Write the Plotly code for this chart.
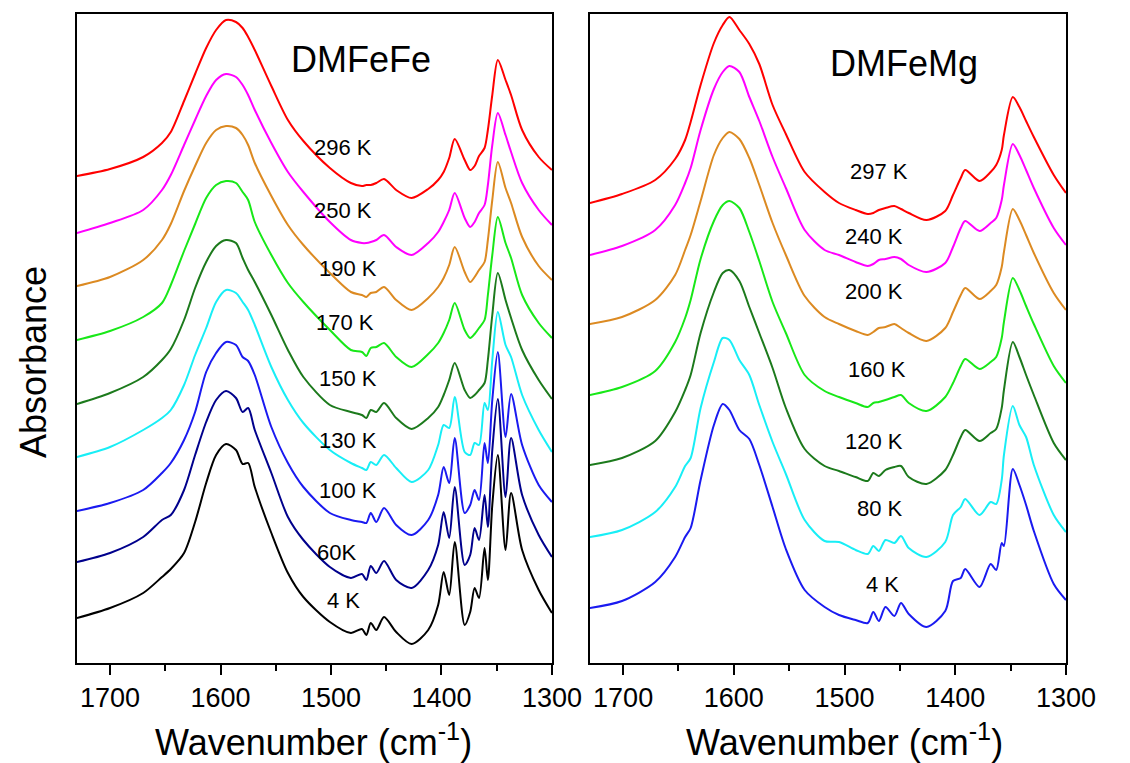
import plotly.graph_objects as go

# ---------------- DMFeFe panel (left) ----------------
wn_fefe = [1730, 1700, 1670, 1653, 1645, 1633, 1623, 1613, 1604, 1595, 1586, 1580, 1575, 1569,
           1554, 1539, 1525, 1501, 1482, 1472, 1468, 1464, 1459, 1452, 1441, 1427, 1412, 1403,
           1398, 1393, 1388, 1379, 1374, 1370, 1366, 1361, 1358, 1354, 1349, 1342, 1337, 1327,
           1312, 1300]

fefe_296K = [4.87, 4.94, 5.06, 5.20, 5.31, 5.62, 5.89, 6.15, 6.33, 6.43, 6.41, 6.35, 6.26, 6.13,
             5.77, 5.43, 5.22, 4.95, 4.80, 4.77, 4.78, 4.78, 4.80, 4.84, 4.73, 4.65, 4.74, 4.83,
             4.91, 5.05, 5.24, 5.03, 4.93, 4.97, 5.07, 5.15, 5.33, 5.68, 6.03, 5.83, 5.68, 5.33,
             5.06, 4.93]
fefe_250K = [4.30, 4.40, 4.53, 4.73, 4.88, 5.18, 5.43, 5.67, 5.83, 5.89, 5.86, 5.78, 5.68, 5.53,
             5.20, 4.91, 4.71, 4.41, 4.23, 4.20, 4.20, 4.21, 4.23, 4.28, 4.16, 4.08, 4.20, 4.31,
             4.41, 4.53, 4.70, 4.45, 4.36, 4.41, 4.50, 4.58, 4.78, 5.18, 5.50, 5.28, 5.11, 4.80,
             4.53, 4.38]
fefe_190K = [3.77, 3.86, 4.03, 4.23, 4.39, 4.72, 4.97, 5.20, 5.33, 5.37, 5.35, 5.28, 5.18, 5.00,
             4.67, 4.38, 4.18, 3.90, 3.71, 3.68, 3.66, 3.70, 3.71, 3.76, 3.63, 3.53, 3.65, 3.76,
             3.85, 3.98, 4.16, 3.91, 3.81, 3.86, 3.93, 4.01, 4.23, 4.63, 5.01, 4.75, 4.60, 4.26,
             3.97, 3.83]
fefe_170K = [3.23, 3.32, 3.46, 3.60, 3.78, 4.12, 4.39, 4.65, 4.78, 4.82, 4.80, 4.71, 4.63, 4.41,
             4.08, 3.80, 3.61, 3.33, 3.13, 3.11, 3.07, 3.15, 3.16, 3.20, 3.06, 2.96, 3.09, 3.20,
             3.30, 3.43, 3.60, 3.33, 3.25, 3.29, 3.35, 3.43, 3.68, 4.08, 4.46, 4.20, 4.05, 3.68,
             3.40, 3.25]
fefe_150K = [2.59, 2.70, 2.86, 3.03, 3.14, 3.43, 3.75, 4.01, 4.17, 4.23, 4.20, 4.05, 3.93, 3.81,
             3.48, 3.13, 2.86, 2.58, 2.51, 2.48, 2.45, 2.53, 2.51, 2.60, 2.45, 2.34, 2.45, 2.56,
             2.68, 2.83, 3.00, 2.73, 2.65, 2.68, 2.73, 2.80, 3.03, 3.48, 3.90, 3.63, 3.45, 3.13,
             2.83, 2.64]
fefe_130K = [2.06, 2.16, 2.33, 2.45, 2.53, 2.78, 3.08, 3.35, 3.61, 3.73, 3.70, 3.61, 3.53, 3.38,
             2.96, 2.63, 2.40, 2.13, 2.00, 1.95, 1.93, 2.01, 1.98, 2.08, 1.95, 1.81, 1.93, 2.18,
             2.38, 2.35, 2.66, 2.11, 2.08, 2.20, 2.18, 2.60, 2.53, 3.03, 3.51, 3.18, 3.06, 2.68,
             2.33, 2.11]
fefe_100K = [1.52, 1.60, 1.73, 1.90, 2.00, 2.23, 2.51, 2.91, 3.10, 3.21, 3.18, 3.06, 3.02, 2.88,
             2.36, 2.00, 1.76, 1.50, 1.43, 1.41, 1.40, 1.50, 1.41, 1.55, 1.38, 1.28, 1.43, 1.68,
             1.96, 1.80, 2.25, 1.50, 1.58, 1.73, 1.63, 2.20, 2.00, 2.63, 3.11, 2.26, 2.69, 2.18,
             1.78, 1.61]
fefe_60K = [1.01, 1.10, 1.26, 1.43, 1.48, 1.73, 2.08, 2.41, 2.63, 2.72, 2.65, 2.51, 2.55, 2.33,
            1.90, 1.46, 1.23, 0.96, 0.85, 0.89, 0.83, 0.97, 0.90, 1.02, 0.83, 0.75, 0.93, 1.18,
            1.51, 1.25, 1.76, 0.98, 1.08, 1.35, 1.23, 1.68, 1.36, 2.13, 2.64, 1.66, 2.25, 1.68,
            1.28, 1.06]
fefe_4K = [0.45, 0.55, 0.70, 0.86, 0.94, 1.10, 1.41, 1.80, 2.08, 2.19, 2.13, 1.99, 2.00, 1.76,
           1.30, 0.90, 0.66, 0.41, 0.30, 0.34, 0.28, 0.40, 0.33, 0.46, 0.31, 0.19, 0.33, 0.58,
           0.91, 0.68, 1.21, 0.38, 0.51, 0.75, 0.65, 1.15, 0.83, 1.58, 2.08, 1.13, 1.70, 1.13,
           0.73, 0.50]

fefe_labels = ["296 K", "250 K", "190 K", "170 K", "150 K", "130 K", "100 K", "60K", "4 K"]
fefe_series = [fefe_296K, fefe_250K, fefe_190K, fefe_170K, fefe_150K, fefe_130K, fefe_100K,
               fefe_60K, fefe_4K]

# ---------------- DMFeMg panel (right) ----------------
wn_femg = [1730, 1701, 1671, 1653, 1644, 1639, 1630, 1618, 1610, 1604, 1595, 1586, 1577, 1565,
           1553, 1536, 1518, 1505, 1490, 1479, 1474, 1469, 1463, 1455, 1449, 1442, 1426, 1409,
           1402, 1395, 1391, 1378, 1368, 1363, 1358, 1356, 1348, 1342, 1336, 1329, 1311, 1300]

femg_297K = [4.60, 4.69, 4.83, 5.04, 5.23, 5.41, 5.78, 6.20, 6.38, 6.46, 6.33, 6.19, 5.99, 5.58,
             5.29, 4.91, 4.71, 4.60, 4.53, 4.49, 4.50, 4.53, 4.55, 4.57, 4.54, 4.50, 4.43, 4.52,
             4.68, 4.85, 4.93, 4.82, 4.91, 4.98, 5.13, 5.28, 5.66, 5.56, 5.42, 5.26, 4.88, 4.70]
femg_240K = [4.08, 4.17, 4.33, 4.58, 4.80, 4.95, 5.33, 5.74, 5.91, 5.97, 5.91, 5.66, 5.42, 5.06,
             4.75, 4.33, 4.13, 4.08, 4.01, 3.97, 3.99, 4.03, 4.04, 4.06, 4.04, 3.98, 3.91, 4.00,
             4.16, 4.35, 4.42, 4.32, 4.40, 4.45, 4.63, 4.78, 5.19, 5.08, 4.93, 4.75, 4.35, 4.18]
femg_200K = [3.39, 3.46, 3.63, 3.88, 4.13, 4.28, 4.62, 5.08, 5.25, 5.31, 5.24, 5.05, 4.78, 4.40,
             4.08, 3.67, 3.46, 3.39, 3.32, 3.28, 3.31, 3.35, 3.36, 3.39, 3.35, 3.30, 3.22, 3.35,
             3.51, 3.68, 3.75, 3.64, 3.72, 3.78, 3.96, 4.11, 4.54, 4.43, 4.28, 4.10, 3.70, 3.53]
femg_160K = [2.68, 2.76, 2.92, 3.21, 3.45, 3.63, 4.04, 4.42, 4.58, 4.62, 4.55, 4.31, 4.02, 3.61,
             3.30, 2.88, 2.72, 2.66, 2.60, 2.56, 2.60, 2.61, 2.63, 2.66, 2.68, 2.60, 2.52, 2.66,
             2.80, 2.97, 3.04, 2.94, 3.01, 3.06, 3.25, 3.41, 3.85, 3.73, 3.57, 3.39, 2.97, 2.80]
femg_120K = [1.98, 2.05, 2.22, 2.51, 2.73, 2.88, 3.30, 3.71, 3.90, 3.93, 3.82, 3.56, 3.30, 2.95,
             2.55, 2.14, 1.97, 1.92, 1.86, 1.82, 1.90, 1.87, 1.93, 1.96, 1.97, 1.86, 1.79, 1.93,
             2.08, 2.26, 2.33, 2.22, 2.30, 2.34, 2.55, 2.73, 3.21, 3.06, 2.88, 2.68, 2.20, 2.03]
femg_80K = [1.26, 1.33, 1.51, 1.76, 1.97, 2.05, 2.55, 3.01, 3.25, 3.23, 3.03, 2.88, 2.58, 2.21,
            1.89, 1.43, 1.22, 1.21, 1.13, 1.09, 1.17, 1.12, 1.23, 1.20, 1.27, 1.15, 1.06, 1.21,
            1.48, 1.56, 1.64, 1.48, 1.61, 1.59, 1.83, 2.08, 2.57, 2.38, 2.26, 1.98, 1.48, 1.31]
femg_4K = [0.55, 0.62, 0.81, 1.06, 1.26, 1.35, 1.83, 2.38, 2.59, 2.53, 2.33, 2.24, 1.98, 1.56,
           1.14, 0.73, 0.56, 0.48, 0.43, 0.40, 0.51, 0.42, 0.56, 0.47, 0.60, 0.49, 0.36, 0.52,
           0.82, 0.85, 0.94, 0.76, 0.99, 0.93, 1.20, 1.17, 1.94, 1.78, 1.58, 1.32, 0.79, 0.63]

femg_labels = ["297 K", "240 K", "200 K", "160 K", "120 K", "80 K", "4 K"]
femg_series = [femg_297K, femg_240K, femg_200K, femg_160K, femg_120K, femg_80K, femg_4K]

xticks = [1700, 1600, 1500, 1400, 1300]

# ---------------- styles / placement ----------------
fefe_colors = ["#FF0000", "#FF00FF", "#DC8A22", "#18E818", "#1C7A1C", "#18EEF6", "#1A1AF0",
               "#00008C", "#000000"]
femg_colors = ["#FF0000", "#FF00FF", "#DC8A22", "#18E818", "#1C7A1C", "#18EEF6", "#1A1AF0"]
fefe_label_pos = [(1489, 5.16), (1489, 4.53), (1485, 3.95), (1487, 3.41), (1485, 2.85),
                  (1485, 2.23), (1485, 1.73), (1495, 1.11), (1489, 0.63)]
femg_label_pos = [(1469, 4.92), (1473, 4.27), (1473, 3.72), (1471, 2.94), (1473, 2.22),
                  (1468, 1.55), (1466, 0.79)]

FONT = "Arial, Liberation Sans, sans-serif"

fig = go.Figure()
for vals, col in zip(fefe_series, fefe_colors):
    fig.add_trace(go.Scatter(x=wn_fefe, y=vals, mode="lines", xaxis="x", yaxis="y",
                             line=dict(color=col, width=2, shape="spline", smoothing=0.8),
                             showlegend=False, hoverinfo="skip"))
for vals, col in zip(femg_series, femg_colors):
    fig.add_trace(go.Scatter(x=wn_femg, y=vals, mode="lines", xaxis="x2", yaxis="y2",
                             line=dict(color=col, width=2, shape="spline", smoothing=0.8),
                             showlegend=False, hoverinfo="skip"))

ydom = [(763 - 663) / 763, (763 - 14) / 763]
xcommon = dict(range=[1730, 1300], tickvals=xticks, ticks="outside", ticklen=10, tickwidth=2,
               tickcolor="black", showline=True, linewidth=2, linecolor="black", mirror=True,
               showgrid=False, zeroline=False,
               tickfont=dict(family=FONT, size=27, color="black"),
               minor=dict(ticks="outside", ticklen=6, tickwidth=2, tickcolor="black",
                          tickvals=[1650, 1550, 1450, 1350], showgrid=False))
ycommon = dict(range=[0, 6.49], showticklabels=False, ticks="", showline=True, linewidth=2,
               linecolor="black", mirror=True, showgrid=False, zeroline=False, domain=ydom)

fig.update_layout(
    width=1130, height=763, autosize=False,
    margin=dict(l=0, r=0, t=0, b=0),
    paper_bgcolor="white", plot_bgcolor="white",
    xaxis=dict(domain=[79 / 1130, 567 / 1130], anchor="y", **xcommon),
    yaxis=dict(anchor="x", **ycommon),
    xaxis2=dict(domain=[606 / 1130, 1095 / 1130], anchor="y2", **xcommon),
    yaxis2=dict(anchor="x2", **ycommon),
)

ann = []
for txt, (xx, yy) in zip(fefe_labels, fefe_label_pos):
    ann.append(dict(x=xx, y=yy, xref="x", yref="y", text=txt, showarrow=False,
                    xanchor="center", yanchor="middle",
                    font=dict(family=FONT, size=22, color="black")))
for txt, (xx, yy) in zip(femg_labels, femg_label_pos):
    ann.append(dict(x=xx, y=yy, xref="x2", yref="y2", text=txt, showarrow=False,
                    xanchor="center", yanchor="middle",
                    font=dict(family=FONT, size=22, color="black")))
ann.append(dict(x=1473, y=6.04, xref="x", yref="y", text="DMFeFe", showarrow=False,
                xanchor="center", yanchor="middle",
                font=dict(family=FONT, size=36, color="black")))
ann.append(dict(x=1446, y=6.0, xref="x2", yref="y2", text="DMFeMg", showarrow=False,
                xanchor="center", yanchor="middle",
                font=dict(family=FONT, size=36, color="black")))
ann.append(dict(x=322 / 1130, y=(763 - 740) / 763, xref="paper", yref="paper",
                text="Wavenumber (cm<sup>-1</sup>)", showarrow=False,
                xanchor="center", yanchor="middle",
                font=dict(family=FONT, size=36, color="black")))
ann.append(dict(x=868 / 1130, y=(763 - 740) / 763, xref="paper", yref="paper",
                text="Wavenumber (cm<sup>-1</sup>)", showarrow=False,
                xanchor="center", yanchor="middle",
                font=dict(family=FONT, size=36, color="black")))
ann.append(dict(x=34 / 1130, y=(763 - 362) / 763, xref="paper", yref="paper",
                text="Absorbance", textangle=-90, showarrow=False,
                xanchor="center", yanchor="middle",
                font=dict(family=FONT, size=36, color="black")))
fig.update_layout(annotations=ann)

fig.write_html("out.html")
